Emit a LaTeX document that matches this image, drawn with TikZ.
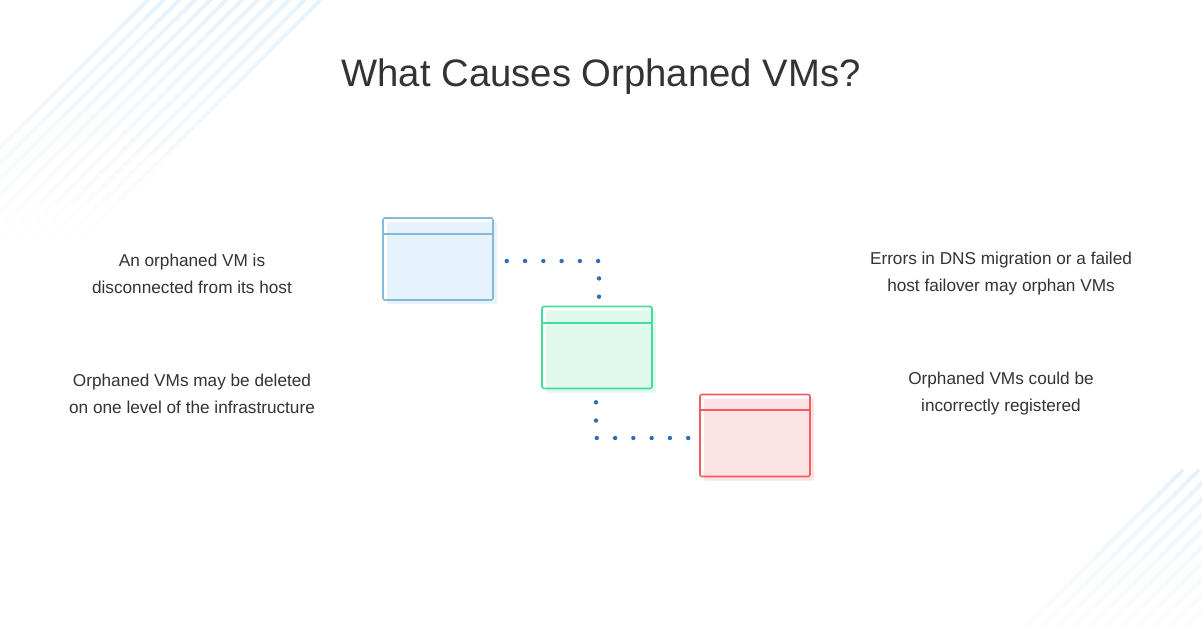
\documentclass[tikz,border=0pt]{standalone}
\usepackage{fontspec}
\setsansfont{Liberation Sans}
\usetikzlibrary{positioning, calc, shadows, fadings}
\definecolor{ink}{HTML}{333333}
\definecolor{stripe}{HTML}{E6F3FC}
\definecolor{dotblue}{HTML}{2C6FB7}
\definecolor{vmBlueLine}{HTML}{86B8D8}
\definecolor{vmBlueFill}{HTML}{E7F3FC}
\definecolor{vmGreenLine}{HTML}{45DB9A}
\definecolor{vmGreenFill}{HTML}{E1F8EE}
\definecolor{vmRedLine}{HTML}{F25C5C}
\definecolor{vmRedFill}{HTML}{FBE3E3}

\begin{document}
\begin{tikzpicture}[
  x=0.75pt, y=-0.75pt,                          % 1 unit = 1 px of the 1202x629 canvas
  font=\sffamily,
  title/.style={font=\sffamily\fontsize{28.7}{34}\selectfont, text=ink},
  cause/.style={font=\sffamily\fontsize{12.9}{20.25}\selectfont, text=ink, align=center},
  vmwin/.style={rectangle, rounded corners=1.5pt, line width=1.2pt, inner sep=0pt,
                minimum width=82.5pt, minimum height=61.5pt},
  vmBlue/.style={vmwin, draw=vmBlueLine,
                 drop shadow={shadow xshift=3pt, shadow yshift=-3pt, opacity=1, fill=vmBlueFill}},
  vmGreen/.style={vmwin, draw=vmGreenLine,
                  drop shadow={shadow xshift=3pt, shadow yshift=-3pt, opacity=1, fill=vmGreenFill}},
  vmRed/.style={vmwin, draw=vmRedLine,
                drop shadow={shadow xshift=3pt, shadow yshift=-3pt, opacity=1, fill=vmRedFill}},
  dotline/.style={draw=dotblue, line width=3.3pt, line cap=round, dash pattern=on 0pt off 13.7pt},
  stripeline/.style={draw=stripe, line width=3pt, path fading=west}
]

  % --- canvas ---
  \fill[white] (0,0) rectangle (1202,629);
  \useasboundingbox (0,0) rectangle (1202,629);

  % --- faded diagonal stripes in the corners ---
  \begin{scope}
    \clip (0,0) rectangle (1202,629);
    \foreach \s in {0,...,11}
      \draw[stripeline] ({157.7+15.7*\s},-10) -- ({157.7+15.7*\s-250},240);
    \foreach \s in {0,...,11}
      \draw[stripeline] ({1653+16*\s-470},470) -- ({1653+16*\s-640},640);
  \end{scope}

  % --- heading ---
  \node[title, anchor=base] (heading) at (601, 86) {What Causes Orphaned VMs?};

  % --- three VM windows, stepping down to the right ---
  \node[vmBlue]  (vmA) at (438, 259)   {};
  \node[vmGreen] (vmB) at (597, 347.5) {};
  \node[vmRed]   (vmC) at (755, 435.5) {};
  \draw[vmBlueLine,  line width=1.2pt] ([yshift=-12.75pt]vmA.north west) -- ([yshift=-12.75pt]vmA.north east);
  \draw[vmGreenLine, line width=1.2pt] ([yshift=-12.75pt]vmB.north west) -- ([yshift=-12.75pt]vmB.north east);
  \draw[vmRedLine,   line width=1.2pt] ([yshift=-12pt]vmC.north west)    -- ([yshift=-12pt]vmC.north east);

  % --- dotted links ---
  \draw[dotline] ($(vmA.east)+(13,2)$) -| ($(vmB.north)+(2,-9)$);
  \draw[dotline] ($(vmB.south)+(-1,13)$) |- ($(vmC.west)+(-11,2.5)$);

  % --- causes ---
  \node[cause] (hostText)     at (192, 273.5)  {An orphaned VM is\\disconnected from its host};
  \node[cause] (deleteText)   at (192, 393.5)  {Orphaned VMs may be deleted\\on one level of the infrastructure};
  \node[cause] (dnsText)      at (1001, 273.5) {Errors in DNS migration or a failed\\host failover may orphan VMs};
  \node[cause] (registerText) at (1001, 393.5) {Orphaned VMs could be\\incorrectly registered};

\end{tikzpicture}
\end{document}
